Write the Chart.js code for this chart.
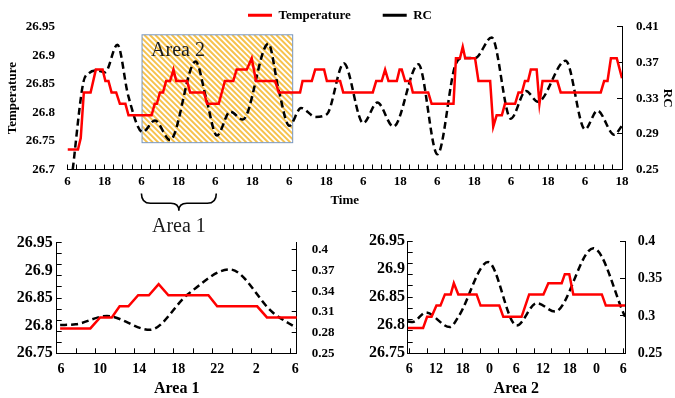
<!DOCTYPE html>
<html>
<head>
<meta charset="utf-8">
<script src="https://cdn.jsdelivr.net/npm/chart.js@4.4.1/dist/chart.umd.min.js"></script>
<style>
  html, body { margin: 0; padding: 0; background: #fff; }
  #wrap { position: relative; width: 675px; height: 398px; overflow: hidden; }
  canvas { position: absolute; }
  #main { left: 0; top: 0; z-index: 2; }
  #area1 { left: 0; top: 215px; }
  #area2 { left: 340px; top: 215px; }
</style>
</head>
<body>
<div id="wrap">
  <canvas id="main" width="675" height="240"></canvas>
  <canvas id="area1" width="340" height="183"></canvas>
  <canvas id="area2" width="335" height="183"></canvas>
</div>
<script>
// hours counted from the first 6 o'clock on each axis

// main chart
var mainTempHours = [0, 3.4, 4.3, 5.3, 7.5, 9.2, 11.4, 12.3, 13.3, 14.3, 15.8, 17, 18.8, 19.8, 27.3, 28.3, 29, 30, 31, 32,
  33.3, 34.4, 35.3, 38.8, 39.8, 44.3, 45.3, 49.1, 51.1, 53.8, 54.9, 58.2, 59.8, 61.2, 67.4, 68.6, 75.5, 76.3, 79.3, 80.4,
  83.3, 84.2, 88.5, 89.5, 99.1, 100.2, 102, 103.1, 104.2, 106.9, 107.8, 108.5, 109.6, 111.2, 112.1, 117.1, 118.2, 125.3, 126.1, 127.4,
  128.3, 129.1, 132.3, 133.4, 137.2, 138.2, 139.3, 141, 142, 145.3, 146.4, 147.5, 148.5, 149.5, 150.4, 152.3, 153.2, 154.2, 159, 160.1,
  173.1, 174.2, 175.3, 176.4, 178.3, 180];
var mainTempValues = [26.735, 26.735, 26.755, 26.835, 26.835, 26.875, 26.875, 26.855, 26.855, 26.835, 26.835, 26.815, 26.815, 26.795, 26.795, 26.815, 26.815, 26.835, 26.835, 26.855,
  26.855, 26.875, 26.855, 26.855, 26.835, 26.835, 26.815, 26.815, 26.855, 26.855, 26.875, 26.875, 26.895, 26.855, 26.855, 26.835, 26.835, 26.855, 26.855, 26.875,
  26.875, 26.855, 26.855, 26.835, 26.835, 26.855, 26.855, 26.875, 26.855, 26.855, 26.875, 26.875, 26.855, 26.855, 26.835, 26.835, 26.815, 26.815, 26.895, 26.895,
  26.915, 26.895, 26.895, 26.855, 26.855, 26.775, 26.795, 26.795, 26.815, 26.815, 26.835, 26.835, 26.855, 26.855, 26.875, 26.875, 26.815, 26.855, 26.855, 26.835,
  26.835, 26.855, 26.855, 26.895, 26.895, 26.86];
var mainRcHours = [1.7, 5.1, 7, 9.5, 12.2, 16.2, 19.7, 24.4, 28.4, 33.3, 41.6, 45, 48.5, 52.8, 56.9, 65.2, 68.5, 72, 75.8, 80.5,
  84.2, 89.7, 96, 100.6, 105.8, 113.9, 120.1, 125.8, 128.5, 132.3, 137.7, 143.9, 148.8, 152.7, 161.7, 168, 172, 177.5, 180];
var mainRcValues = [0.25, 0.347, 0.358, 0.361, 0.359, 0.390, 0.333, 0.292, 0.305, 0.283, 0.371, 0.33, 0.288, 0.315, 0.306, 0.391, 0.34, 0.299, 0.319, 0.309,
  0.312, 0.369, 0.302, 0.325, 0.298, 0.368, 0.267, 0.366, 0.375, 0.375, 0.398, 0.307, 0.338, 0.326, 0.372, 0.295, 0.316, 0.289, 0.299];
var mainXLabelHours = [0, 12, 24, 36, 48, 60, 72, 84, 96, 108, 120, 132, 144, 156, 168, 180];
var mainXLabels = ['6', '18', '6', '18', '6', '18', '6', '18', '6', '18', '6', '18', '6', '18', '6', '18'];
var mainTempTicks = [26.7, 26.75, 26.8, 26.85, 26.9, 26.95];
var mainRcTicks = [0.25, 0.29, 0.33, 0.37, 0.41];

// Area 1 inset
var a1TempHours = [-0.1, 3, 4, 5.2, 6, 6.9, 7.9, 9, 10, 11, 15.1, 16, 20.1, 21.1, 24.2];
var a1TempValues = [26.795, 26.795, 26.815, 26.815, 26.835, 26.835, 26.855, 26.855, 26.875, 26.855, 26.855, 26.835, 26.835, 26.815, 26.815];
var a1RcHours = [-0.1, 1.5, 4.7, 9.1, 13, 17.3, 21.7, 24.2];
var a1RcValues = [0.291, 0.292, 0.304, 0.284, 0.3355, 0.3714, 0.309, 0.286];
var a1XLabelHours = [0, 4, 8, 12, 16, 20, 24];
var a1XLabels = ['6', '10', '14', '18', '22', '2', '6'];
var a1RcTicks = [0.25, 0.28, 0.31, 0.34, 0.37, 0.4];

// Area 2 inset
var a2TempHours = [-0.3, 3.1, 4, 5, 6.1, 7, 8, 9.3, 10, 11, 15.1, 16, 20.2, 21.1, 25.2, 26.9, 30.1, 31.2, 34.2, 34.9,
  35.9, 36.8, 43.2, 44.1, 48.4];
var a2TempValues = [26.795, 26.795, 26.815, 26.815, 26.835, 26.835, 26.855, 26.855, 26.875, 26.855, 26.855, 26.835, 26.835, 26.815, 26.815, 26.855, 26.855, 26.875, 26.875, 26.891,
  26.891, 26.855, 26.855, 26.835, 26.835];
var a2RcHours = [-0.3, 0.8, 3.7, 9.1, 11.1, 17.7, 24.1, 28.6, 32.7, 41.3, 48.4];
var a2RcValues = [0.2925, 0.292, 0.3045, 0.285, 0.2996, 0.3719, 0.2872, 0.317, 0.3058, 0.3905, 0.299];
var a2XLabelHours = [0, 6, 12, 18, 24, 30, 36, 42, 48];
var a2XLabels = ['6', '12', '18', '0', '6', '12', '18', '0', '6'];
var a2RcTicks = [0.25, 0.3, 0.35, 0.4];

var insetTempTicks = [26.75, 26.8, 26.85, 26.9, 26.95];

// marked regions on the main chart
var area2Hours = [24.2, 73.1];
var area2Temp = [26.936, 26.747];
var area1Hours = [24, 48.3];

Chart.defaults.font.family = "'Liberation Serif', 'Times New Roman', serif";
Chart.defaults.color = '#000';

function series(h, v) {
  return h.map(function (x, i) { return { x: x, y: v[i] }; });
}

function lineSets(tH, tV, rH, rV) {
  return [{
    label: 'Temperature',
    data: series(tH, tV),
    yAxisID: 'y',
    borderColor: '#ff0000',
    borderWidth: 2.5,
    pointRadius: 0,
    tension: 0
  }, {
    label: 'RC',
    data: series(rH, rV),
    yAxisID: 'y1',
    borderColor: '#000',
    borderWidth: 2.5,
    borderDash: [7, 4],
    pointRadius: 0,
    tension: 0.4,
    cubicInterpolationMode: 'monotone'
  }];
}

function near(v, list) {
  return list.some(function (t) { return Math.abs(t - v) < 1e-6; });
}
function union(a, b) {
  var out = a.slice();
  b.forEach(function (v) { if (!near(v, out)) out.push(v); });
  return out.sort(function (p, q) { return p - q; });
}
function setTicks(values) {
  return function (scale) {
    scale.ticks = values.map(function (v) { return { value: v }; });
  };
}
function labelFor(hours, labels) {
  return function (value) {
    for (var i = 0; i < hours.length; i++) {
      if (Math.abs(hours[i] - value) < 1e-6) return labels[i];
    }
    return '';
  };
}
function markColor(marks) {
  return function (c) {
    return c.tick && near(c.tick.value, marks) ? '#000' : 'rgba(0,0,0,0)';
  };
}

function steps(start, stop, step) {
  var out = [];
  for (var v = start; v <= stop + 1e-9; v += step) out.push(Math.round(v * 1000) / 1000);
  return out;
}

var areaMarks = {
  id: 'areaMarks',
  beforeDatasetsDraw: function (chart) {
    var ctx = chart.ctx, x = chart.scales.x, y = chart.scales.y;
    var x1 = x.getPixelForValue(area2Hours[0]), x2 = x.getPixelForValue(area2Hours[1]);
    var y1 = y.getPixelForValue(area2Temp[0]), y2 = y.getPixelForValue(area2Temp[1]);
    var h = y2 - y1;
    ctx.save();
    ctx.beginPath();
    ctx.rect(x1, y1, x2 - x1, h);
    ctx.clip();
    ctx.strokeStyle = '#f6c24e';
    ctx.lineWidth = 2;
    for (var s = x1 - h; s < x2; s += 5.5) {
      ctx.beginPath();
      ctx.moveTo(s, y1);
      ctx.lineTo(s + h, y2);
      ctx.stroke();
    }
    ctx.restore();
    ctx.save();
    ctx.strokeStyle = '#7897c0';
    ctx.lineWidth = 1;
    ctx.strokeRect(x1, y1, x2 - x1, h);
    ctx.fillStyle = '#1a1a1a';
    ctx.font = "20px 'Liberation Serif', serif";
    ctx.textBaseline = 'alphabetic';
    ctx.fillText('Area 2', x1 + 9, y1 + 21.5);
    ctx.restore();
  },
  afterDraw: function (chart) {
    var ctx = chart.ctx, x = chart.scales.x;
    var xl = x.getPixelForValue(area1Hours[0]), xr = x.getPixelForValue(area1Hours[1]);
    var xm = (xl + xr) / 2;
    var b = chart.chartArea.bottom;
    var yTop = b + 24, yMid = b + 33.8, yTip = b + 41.2;
    ctx.save();
    ctx.strokeStyle = '#000';
    ctx.lineWidth = 1.6;
    ctx.beginPath();
    ctx.moveTo(xl, yTop);
    ctx.quadraticCurveTo(xl, yMid, xl + 9, yMid);
    ctx.lineTo(xm - 8, yMid);
    ctx.quadraticCurveTo(xm, yMid, xm, yTip);
    ctx.moveTo(xm, yTip);
    ctx.quadraticCurveTo(xm, yMid, xm + 8, yMid);
    ctx.lineTo(xr - 9, yMid);
    ctx.quadraticCurveTo(xr, yMid, xr, yTop);
    ctx.stroke();
    ctx.fillStyle = '#1a1a1a';
    ctx.font = "20px 'Liberation Serif', serif";
    ctx.textAlign = 'center';
    ctx.textBaseline = 'middle';
    ctx.fillText('Area 1', xm, b + 57);
    ctx.restore();
  }
};

var bold13 = { size: 13, weight: 'bold' };
var bold14 = { size: 14, weight: 'bold' };
var bold16 = { size: 16, weight: 'bold' };

new Chart(document.getElementById('main'), {
  type: 'line',
  data: { datasets: lineSets(mainTempHours, mainTempValues, mainRcHours, mainRcValues) },
  options: {
    responsive: false,
    animation: false,
    devicePixelRatio: 1,
    layout: { padding: { left: 5, right: 0, top: -28, bottom: 31.2 } },
    plugins: {
      legend: {
        position: 'top',
        maxHeight: 50,
        labels: {
          usePointStyle: true,
          pointStyle: 'line',
          pointStyleWidth: 24,
          padding: 32,
          color: '#000',
          font: bold13,
          generateLabels: function (c) {
            return Chart.defaults.plugins.legend.labels.generateLabels(c).map(function (l) {
              l.lineDash = [];
              l.lineWidth = 3;
              return l;
            });
          }
        }
      },
      tooltip: { enabled: false }
    },
    scales: {
      x: {
        type: 'linear', min: 0, max: 180,
        afterBuildTicks: setTicks(steps(0, 180, 3)),
        afterFit: function (s) { s.height = 39.3; },
        ticks: { autoSkip: false, maxRotation: 0, padding: 9.4, font: bold13, callback: labelFor(mainXLabelHours, mainXLabels) },
        grid: { drawOnChartArea: false, tickLength: -5, tickColor: '#000' },
        border: { color: '#000' },
        title: { display: true, text: 'Time', font: bold13, padding: 0 }
      },
      y: {
        type: 'linear', position: 'left', min: 26.7, max: 26.95,
        afterBuildTicks: setTicks(mainTempTicks),
        afterFit: function (s) { s.width = 62.5; },
        ticks: { autoSkip: false, padding: 12.5, font: bold13, callback: function (v) { return String(v); } },
        grid: { display: false, drawTicks: false },
        border: { display: false },
        title: { display: true, text: 'Temperature', font: bold13, padding: 0 }
      },
      y1: {
        type: 'linear', position: 'right', min: 0.25, max: 0.41,
        afterBuildTicks: setTicks(mainRcTicks),
        afterFit: function (s) { s.width = 53; },
        ticks: { autoSkip: false, padding: 19, font: bold13, callback: function (v) { return String(v); } },
        grid: { drawOnChartArea: false, tickLength: -5, tickColor: '#000' },
        border: { color: '#000' },
        title: { display: true, text: 'RC', font: bold13, padding: 0 }
      }
    }
  },
  plugins: [areaMarks]
});

function inset(id, data, o) {
  var tempMarks = steps(26.75, 26.95, 0.02);
  return new Chart(document.getElementById(id), {
    type: 'line',
    data: { datasets: lineSets(data[0], data[1], data[2], data[3]) },
    options: {
      responsive: false,
      animation: false,
      devicePixelRatio: 1,
      layout: { padding: { left: 0, right: 0, top: 17.3, bottom: 0 } },
      plugins: { legend: { display: false }, tooltip: { enabled: false } },
      scales: {
        x: {
          type: 'linear', min: o.xMin, max: o.xMax,
          afterBuildTicks: setTicks(union(o.xMarks, o.xLabelHours)),
          afterFit: function (s) { s.height = 44.7; },
          ticks: { autoSkip: false, maxRotation: 0, padding: 12.7, font: bold14, callback: labelFor(o.xLabelHours, o.xLabels) },
          grid: { drawOnChartArea: false, tickLength: -5, tickColor: markColor(o.xMarks) },
          border: { color: '#000' },
          title: { display: true, text: o.title, font: bold16, padding: 0 }
        },
        y: {
          type: 'linear', position: 'left', min: 26.75, max: 26.95,
          afterBuildTicks: setTicks(union(tempMarks, insetTempTicks)),
          afterFit: function (s) { s.width = o.leftW; },
          ticks: { autoSkip: false, padding: o.leftPad, font: bold16, callback: labelFor(insetTempTicks, insetTempTicks.map(String)) },
          grid: { drawOnChartArea: false, tickLength: -5, tickColor: markColor(tempMarks) },
          border: { color: '#000' }
        },
        y1: {
          type: 'linear', position: 'right', min: 0.25, max: o.rcMax,
          afterBuildTicks: setTicks(o.rcTicks),
          afterFit: function (s) { s.width = o.rightW; },
          ticks: { autoSkip: false, padding: o.rightPad, font: { size: o.rightSize, weight: 'bold' }, callback: function (v) { return String(v); } },
          grid: { drawOnChartArea: false, tickLength: -5, tickColor: '#000' },
          border: { color: '#000' }
        }
      }
    }
  });
}

inset('area1', [a1TempHours, a1TempValues, a1RcHours, a1RcValues], {
  xMin: -0.45, xMax: 24.15,
  xMarks: steps(-0.45, 23.55, 2),
  xLabelHours: a1XLabelHours, xLabels: a1XLabels,
  title: 'Area 1',
  rcMax: 0.41, rcTicks: a1RcTicks, rightSize: 13,
  leftW: 56.7, leftPad: 9, rightW: 43.3, rightPad: 20
});

inset('area2', [a2TempHours, a2TempValues, a2RcHours, a2RcValues], {
  xMin: -0.35, xMax: 48.4,
  xMarks: steps(0, 48, 4),
  xLabelHours: a2XLabelHours, xLabels: a2XLabels,
  title: 'Area 2',
  rcMax: 0.4, rcTicks: a2RcTicks, rightSize: 14,
  leftW: 67.7, leftPad: 7.7, rightW: 50, rightPad: 17.7
});
</script>
</body>
</html>
